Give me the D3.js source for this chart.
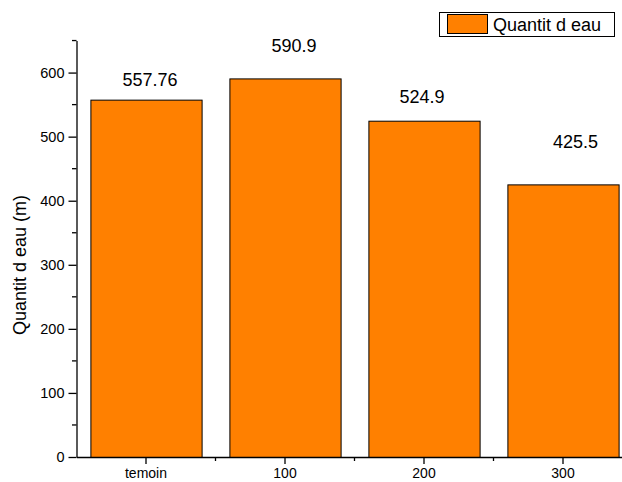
<!DOCTYPE html>
<html><head><meta charset="utf-8">
<script src="https://cdn.jsdelivr.net/npm/d3@7"></script>
<style>body{margin:0;background:#fff;} svg{display:block;font-family:Arial,"Liberation Sans",sans-serif;}</style>
</head><body><svg id="c" width="622" height="482"></svg>
<script>
const categories = ["temoin", "100", "200", "300"];
const values = [557.76, 590.9, 524.9, 425.5];
const valueLabels = ["557.76", "590.9", "524.9", "425.5"];
const labelDx = [4, 9, -2, 12.5];
const labelDy = [13.6, 26.7, 18, 36.7];
const yTicks = [0, 100, 200, 300, 400, 500, 600];
const seriesName = "Quantit d eau";
const yTitle = "Quantit d eau (m)";

const svg = d3.select("#c");
const x0 = 76.5, yBottom = 457;
const x = d3.scaleBand().domain(categories).range([x0, x0 + 139 * 4]).paddingInner(0.2).paddingOuter(0.1);
const y = d3.scaleLinear().domain([0, 650]).range([yBottom, yBottom - 650 * 0.6407]);

// bars
svg.selectAll("rect.bar").data(values).join("rect")
  .attr("class", "bar")
  .attr("x", (d, i) => x(categories[i]) + 0.5)
  .attr("y", d => y(d) + 0.5)
  .attr("width", x.bandwidth())
  .attr("height", d => yBottom - y(d))
  .attr("fill", "#FF8000").attr("stroke", "#000").attr("stroke-width", 1);

// value labels
svg.selectAll("text.vl").data(values).join("text")
  .attr("class", "vl")
  .attr("x", (d, i) => x(categories[i]) + x.bandwidth() / 2 + labelDx[i])
  .attr("y", (d, i) => y(d) - labelDy[i])
  .attr("text-anchor", "middle").attr("font-size", 18).attr("fill", "#000")
  .text((d, i) => valueLabels[i]);

// y axis
const yAxis = d3.axisLeft(y).tickValues(yTicks).tickSize(8).tickSizeOuter(0).tickPadding(4);
const gy = svg.append("g").attr("transform", `translate(${x0},0)`).call(yAxis);
gy.select(".domain").attr("stroke-width", 1.3);
gy.selectAll(".tick line").attr("stroke-width", 1.3);
gy.selectAll(".tick text").attr("font-size", 14.5).attr("fill", "#000").attr("font-family", "Arial,'Liberation Sans',sans-serif");
const minorY = d3.range(50, 700, 100);
svg.append("g").selectAll("line").data(minorY).join("line")
  .attr("x1", x0 - 4.5).attr("x2", x0).attr("y1", d => y(d)).attr("y2", d => y(d))
  .attr("stroke", "#000").attr("stroke-width", 1.3);

// x axis
const xAxis = d3.axisBottom(x).tickSize(7).tickSizeOuter(0).tickPadding(4.5);
const gx = svg.append("g").attr("transform", `translate(0,${yBottom})`).call(xAxis);
gx.select(".domain").attr("stroke-width", 1.3);
gx.selectAll(".tick line").attr("stroke-width", 1.3);
gx.selectAll(".tick text").attr("font-size", 14).attr("fill", "#000").attr("font-family", "Arial,'Liberation Sans',sans-serif");
const minorX = categories.slice(1).map(c => x(c) - x.step() * x.paddingInner() / 2);
svg.append("g").selectAll("line").data(minorX).join("line")
  .attr("x1", d => d).attr("x2", d => d).attr("y1", yBottom).attr("y2", yBottom + 4)
  .attr("stroke", "#000").attr("stroke-width", 1.3);

// y title
svg.append("text").attr("transform", `translate(26,265) rotate(-90)`)
  .attr("text-anchor", "middle").attr("font-size", 18).text(yTitle);

// legend
const lg = svg.append("g");
lg.append("rect").attr("x", 439.5).attr("y", 12.5).attr("width", 175).attr("height", 24)
  .attr("fill", "#fff").attr("stroke", "#000").attr("stroke-width", 1);
lg.append("rect").attr("x", 447.5).attr("y", 14.5).attr("width", 40).attr("height", 19)
  .attr("fill", "#FF8000").attr("stroke", "#000").attr("stroke-width", 1);
lg.append("text").attr("x", 493).attr("y", 31).attr("font-size", 18).text(seriesName);
</script></body></html>
